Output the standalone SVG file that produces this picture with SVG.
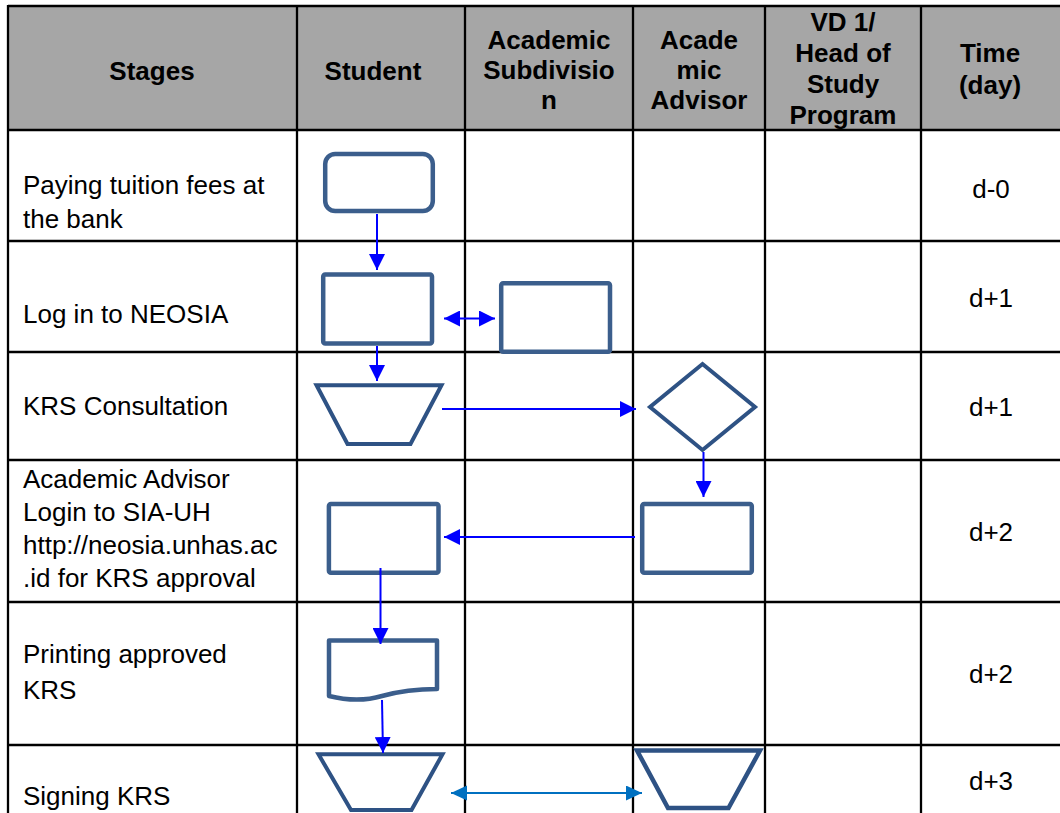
<svg xmlns="http://www.w3.org/2000/svg" width="1060" height="813" viewBox="0 0 1060 813">
<defs>
<style>
.grid{stroke:#000;stroke-width:2.3;fill:none}
.hd{font-family:"Liberation Sans",Arial,sans-serif;font-weight:bold;font-size:26px;fill:#000;text-anchor:middle}
.tx{font-family:"Liberation Sans",Arial,sans-serif;font-size:26px;fill:#000}
.tm{font-family:"Liberation Sans",Arial,sans-serif;font-size:26px;fill:#000;text-anchor:middle}
.shp{fill:#fff;stroke:#3b5e8c;stroke-width:4.5;stroke-linejoin:round}
.shp2{fill:#fff;stroke:#2e5284;stroke-width:4;stroke-linejoin:miter}
.ar{stroke:#0000ff;stroke-width:2;fill:none}
.ar2{stroke:#0070c0;stroke-width:2.2;fill:none}
</style>
<marker id="ah" markerUnits="userSpaceOnUse" markerWidth="16" markerHeight="16" viewBox="0 0 16 16" refX="16" refY="8" orient="auto-start-reverse"><path d="M0,0 L16,8 L0,16 z" fill="#0000ff"/></marker>
<marker id="ah2" markerUnits="userSpaceOnUse" markerWidth="16" markerHeight="16" viewBox="0 0 16 16" refX="16" refY="7.5" orient="auto-start-reverse"><path d="M0,0 L16,7.5 L0,15 z" fill="#0070c0"/></marker>
</defs>
<rect x="0" y="0" width="1060" height="813" fill="#fff"/>
<g id="table">
<rect x="8" y="6" width="1052" height="124" fill="#a6a6a6"/>
<path class="grid" d="M8,6 H1060 M8,130 H1060 M8,241 H1060 M8,352 H1060 M8,460 H1060 M8,602 H1060 M8,745 H1060 M8,5 V813 M297,5 V813 M465,5 V813 M633,5 V813 M765,5 V813 M921,5 V813"/>
<text class="hd" x="152" y="80">Stages</text>
<text class="hd" x="373" y="80">Student</text>
<text class="hd" x="549" y="49">Academic</text>
<text class="hd" x="549" y="79">Subdivisio</text>
<text class="hd" x="549" y="109">n</text>
<text class="hd" x="699" y="49">Acade</text>
<text class="hd" x="699" y="79">mic</text>
<text class="hd" x="699" y="109">Advisor</text>
<text class="hd" x="843" y="31">VD 1/</text>
<text class="hd" x="843" y="62">Head of</text>
<text class="hd" x="843" y="93">Study</text>
<text class="hd" x="843" y="124">Program</text>
<text class="hd" x="990" y="62">Time</text>
<text class="hd" x="990" y="94">(day)</text>
<text class="tx" x="23" y="194">Paying tuition fees at</text>
<text class="tx" x="23" y="228">the bank</text>
<text class="tx" x="23" y="323">Log in to NEOSIA</text>
<text class="tx" x="23" y="415">KRS Consultation</text>
<text class="tx" x="23" y="488">Academic Advisor</text>
<text class="tx" x="23" y="521">Login to SIA-UH</text>
<text class="tx" x="23" y="554">http://neosia.unhas.ac</text>
<text class="tx" x="23" y="587">.id for KRS approval</text>
<text class="tx" x="23" y="663">Printing approved</text>
<text class="tx" x="23" y="699">KRS</text>
<text class="tx" x="23" y="805">Signing KRS</text>
<text class="tm" x="991" y="198">d-0</text>
<text class="tm" x="991" y="307">d+1</text>
<text class="tm" x="991" y="416">d+1</text>
<text class="tm" x="991" y="541">d+2</text>
<text class="tm" x="991" y="683">d+2</text>
<text class="tm" x="991" y="790">d+3</text>
</g>
<g id="n1"><rect class="shp" x="325.2" y="154" width="107.6" height="57" rx="10"/></g>
<g id="n2"><rect class="shp" x="323.2" y="274.5" width="108.8" height="69" rx="2"/></g>
<g id="n3"><rect class="shp" x="501.2" y="283.2" width="108.8" height="68.6" rx="2"/></g>
<g id="n4"><polygon class="shp2" points="316.5,385.3 441.5,385.3 410.5,444 347.5,444"/></g>
<g id="n5"><polygon class="shp2" points="702.5,364 755,407 702.5,450 650,407"/></g>
<g id="n6"><rect class="shp" x="642.2" y="504" width="109.6" height="68.8" rx="2"/></g>
<g id="n7"><rect class="shp" x="328.9" y="504" width="109.6" height="68.8" rx="2"/></g>
<g id="n8"><path class="shp" d="M329,640.5 H437 V689 C414,689 400,691 382,696 C362,702 345,700 329,696 Z"/></g>
<g id="n9"><polygon class="shp2" points="318.5,754.3 442.5,754.3 411.5,810 351,810"/></g>
<g id="n10"><polygon class="shp2" points="637,750.5 760,750.5 728.5,808 668,808" style="stroke-width:4.5"/></g>
<g id="connectors">
<path class="ar" d="M377,214 V270" marker-end="url(#ah)"/>
<path class="ar" d="M444,318.5 H495" marker-start="url(#ah)" marker-end="url(#ah)"/>
<path class="ar" d="M377,346 V381" marker-end="url(#ah)"/>
<path class="ar" d="M442,409 H636" marker-end="url(#ah)"/>
<path class="ar" d="M703.5,452 V497" marker-end="url(#ah)"/>
<path class="ar" d="M635,537 H444" marker-end="url(#ah)"/>
<path class="ar" d="M380.5,568 V644" marker-end="url(#ah)"/>
<path class="ar" d="M382,700 L383,753" marker-end="url(#ah)"/>
<path class="ar2" d="M451,793 H642" marker-start="url(#ah2)" marker-end="url(#ah2)"/>
</g>
</svg>
